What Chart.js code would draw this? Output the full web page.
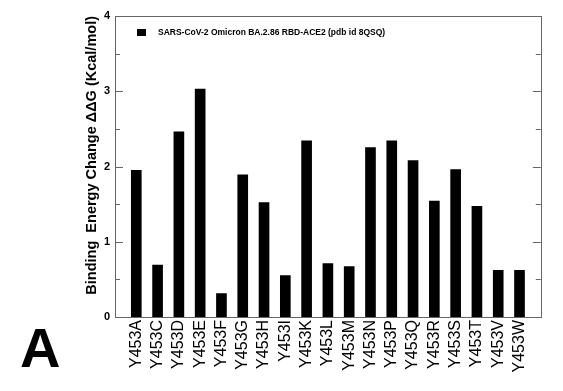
<!DOCTYPE html>
<html>
<head>
<meta charset="utf-8">
<script src="https://cdn.jsdelivr.net/npm/chart.js@4.4.1/dist/chart.umd.min.js"></script>
<style>
  html, body { margin: 0; padding: 0; background: #fff; }
  #wrap { position: relative; width: 563px; height: 391px; }
</style>
</head>
<body>
<div id="wrap"><canvas id="c"></canvas></div>
<script>
const categories = ['Y453A','Y453C','Y453D','Y453E','Y453F','Y453G','Y453H','Y453I','Y453K','Y453L','Y453M','Y453N','Y453P','Y453Q','Y453R','Y453S','Y453T','Y453V','Y453W'];
const ddgValues = [1.95, 0.69, 2.46, 3.03, 0.31, 1.89, 1.52, 0.55, 2.34, 0.71, 0.67, 2.25, 2.34, 2.08, 1.54, 1.96, 1.47, 0.62, 0.62];
const yTicks = [0, 1, 2, 3, 4];
const seriesLabel = 'SARS-CoV-2 Omicron BA.2.86 RBD-ACE2 (pdb id 8QSQ)';
const yTitle = 'Binding  Energy Change \u0394\u0394G (Kcal/mol)';
const panelLetter = 'A';

const FONT = "'Liberation Sans', Arial, sans-serif";

// blank slots at both ends to leave room like the original
const axisLabels = [''].concat(categories, ['']);
const axisData = [null].concat(ddgValues, [null]);

const framePlugin = {
  id: 'frame',
  afterDraw(chart) {
    const ctx = chart.ctx;
    const a = chart.chartArea;
    const ys = chart.scales.y;
    ctx.save();
    ctx.strokeStyle = '#666';
    ctx.lineWidth = 1;
    ctx.strokeRect(Math.round(a.left) + 0.5, Math.round(a.top) + 0.5, Math.round(a.right - a.left), Math.round(a.bottom - a.top));
    // major & minor ticks, inward, both sides
    for (let v = ys.min; v <= ys.max + 1e-9; v += 0.5) {
      const y = Math.round(ys.getPixelForValue(v)) + 0.5;
      const len = Math.abs(v - Math.round(v)) < 1e-9 ? 8 : 5;
      ctx.beginPath();
      ctx.moveTo(a.left, y); ctx.lineTo(a.left + len, y);
      ctx.moveTo(a.right, y); ctx.lineTo(a.right - len, y);
      ctx.stroke();
    }
    // legend inside plot
    ctx.fillStyle = '#000';
    ctx.fillRect(137, 29, 9, 7);
    ctx.font = 'bold 8.5px ' + FONT;
    ctx.textBaseline = 'middle';
    ctx.textAlign = 'left';
    ctx.fillText(chart.data.datasets[0].label, 158, 32.5);
    // panel letter
    ctx.font = 'bold 56px ' + FONT;
    ctx.textBaseline = 'alphabetic';
    ctx.fillText(panelLetter, 20, 367);
    ctx.restore();
  }
};

new Chart(document.getElementById('c'), {
  type: 'bar',
  data: {
    labels: axisLabels,
    datasets: [{
      label: seriesLabel,
      data: axisData,
      backgroundColor: '#000',
      borderWidth: 0,
      barThickness: 10
    }]
  },
  options: {
    responsive: true,
    maintainAspectRatio: false,
    animation: false,
    layout: { padding: { left: 78, top: 16, right: 14, bottom: 0 } },
    plugins: {
      legend: { display: false },
      tooltip: { enabled: false }
    },
    scales: {
      x: {
        offset: false,
        grid: { display: false, drawTicks: false },
        border: { display: false },
        ticks: {
          autoSkip: false,
          minRotation: 90,
          maxRotation: 90,
          padding: 3,
          color: '#000',
          font: { family: FONT, size: 16 }
        },
        afterFit(s) { s.height = 74; }
      },
      y: {
        min: 0,
        max: 4,
        grid: { display: false, drawTicks: false },
        border: { display: false },
        ticks: {
          stepSize: 1,
          padding: 5,
          color: '#000',
          font: { family: FONT, size: 11, weight: 'bold' },
          callback: (v) => yTicks.includes(v) ? String(v) : ''
        },
        title: {
          display: true,
          text: yTitle,
          align: 'end',
          color: '#000',
          padding: { top: 5, bottom: 0 },
          font: { family: FONT, size: 14.5, weight: 'bold' }
        },
        afterFit(s) { s.width = 37; }
      }
    }
  },
  plugins: [framePlugin]
});
</script>
</body>
</html>
